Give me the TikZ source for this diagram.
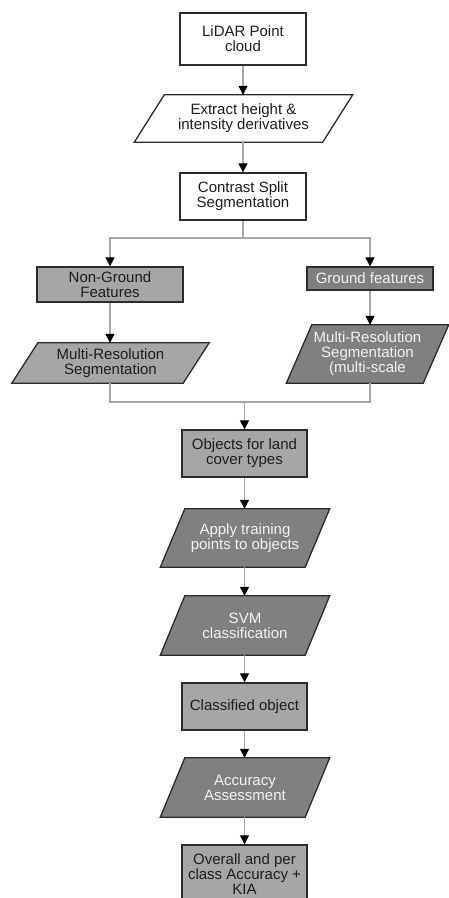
\documentclass[tikz,border=0pt]{standalone}
\usepackage{fontspec}
\setmainfont{Liberation Sans}
\usetikzlibrary{arrows.meta,backgrounds}
\definecolor{lightfill}{HTML}{A6A6A6}
\definecolor{darkfill}{HTML}{808080}
\definecolor{edgecol}{HTML}{2B2B2B}
\definecolor{linecol}{HTML}{A8A8A8}
\definecolor{lighttext}{HTML}{F2F2F2}
\definecolor{darktext}{HTML}{1E1E1E}
\newcommand{\parashape}[3]{%
  \begin{scope}[on background layer]
    \draw[draw=edgecol,line width=1.3pt,fill=#3]
      ([xshift=#2/2]#1.north west) -- ([xshift=#2/2]#1.north east) --
      ([xshift=-#2/2]#1.south east) -- ([xshift=-#2/2]#1.south west) -- cycle;
  \end{scope}}
\begin{document}
\begin{tikzpicture}[x=1pt,y=-1pt,
  every node/.style={font=\fontsize{15}{15}\selectfont, align=center, inner sep=0pt},
  boxw/.style={draw=edgecol, line width=1.3pt, fill=white, text=darktext},
  boxl/.style={draw=edgecol, line width=1.3pt, fill=lightfill, text=darktext},
  boxd/.style={draw=edgecol, line width=1.3pt, fill=darkfill, text=lighttext},
  plabel/.style={draw=none},
  conn/.style={draw=linecol, line width=1.1pt},
  arr/.style={conn, -{Triangle[length=9pt,width=9pt,color=black]}},
]
\useasboundingbox (0,0) rectangle (449,898);

% rectangles
\node[boxw, minimum width=126pt, minimum height=52pt] (lidar) at (243,39) {LiDAR Point\\cloud};
\node[boxw, minimum width=126pt, minimum height=47pt] (contrast) at (243,196.5) {Contrast Split\\Segmentation};
\node[boxl, minimum width=146pt, minimum height=35pt] (nonground) at (110,284.5) {Non-Ground\\Features};
\node[boxd, minimum width=126pt, minimum height=23pt] (ground) at (370,278.5) {Ground features};
\node[boxl, minimum width=125pt, minimum height=47pt] (objects) at (244.5,453.5) {Objects for land\\cover types};
\node[boxl, minimum width=125pt, minimum height=47pt] (classified) at (244.5,706.5) {Classified object};
\node[boxl, minimum width=125pt, minimum height=59pt] (overall) at (244.5,874.5) {Overall and per\\class Accuracy +\\KIA};

% parallelograms
\node[plabel, text=darktext, minimum width=188pt, minimum height=47pt] (extract) at (243.5,118.5) {Extract height \&\\intensity derivatives};
\parashape{extract}{30}{white}
\node[plabel, text=darktext, minimum width=171pt, minimum height=40pt] (mrl) at (110.5,363) {Multi-Resolution\\Segmentation};
\parashape{mrl}{26}{lightfill}
\node[plabel, text=lighttext, minimum width=136.5pt, minimum height=58pt] (mrr) at (367.5,354) {Multi-Resolution\\Segmentation\\(multi-scale};
\parashape{mrr}{25.5}{darkfill}
\node[plabel, text=lighttext, minimum width=144.5pt, minimum height=58pt] (apply) at (245,538) {Apply training\\points to objects};
\parashape{apply}{24.5}{darkfill}
\node[plabel, text=lighttext, minimum width=144.5pt, minimum height=59pt] (svm) at (245,625.5) {SVM\\classification};
\parashape{svm}{24.5}{darkfill}
\node[plabel, text=lighttext, minimum width=144.5pt, minimum height=59pt] (accuracy) at (245,787.5) {Accuracy\\Assessment};
\parashape{accuracy}{24.5}{darkfill}

% connectors
\coordinate (split) at (243,238);
\coordinate (merge) at (244.5,402);
\draw[arr] (lidar.south) -- (lidar.south |- extract.north);
\draw[arr] (contrast.north |- extract.south) -- (contrast.north);
\draw[conn] (contrast.south) -- (split);
\draw[arr] (split) -| (nonground.north);
\draw[arr] (split) -| (ground.north);
\draw[arr] (nonground.south) -- (nonground.south |- mrl.north);
\draw[arr] (ground.south) -- (ground.south |- mrr.north);
\draw[conn] (nonground.south |- mrl.south) |- (merge);
\draw[conn] (ground.south |- mrr.south) |- (merge);
\draw[arr] (merge) -- (objects.north);
\draw[arr] (objects.south) -- (objects.south |- apply.north);
\draw[arr] (objects.south |- apply.south) -- (objects.south |- svm.north);
\draw[arr] (classified.north |- svm.south) -- (classified.north);
\draw[arr] (classified.south) -- (classified.south |- accuracy.north);
\draw[arr] (overall.north |- accuracy.south) -- (overall.north);
\end{tikzpicture}
\end{document}
